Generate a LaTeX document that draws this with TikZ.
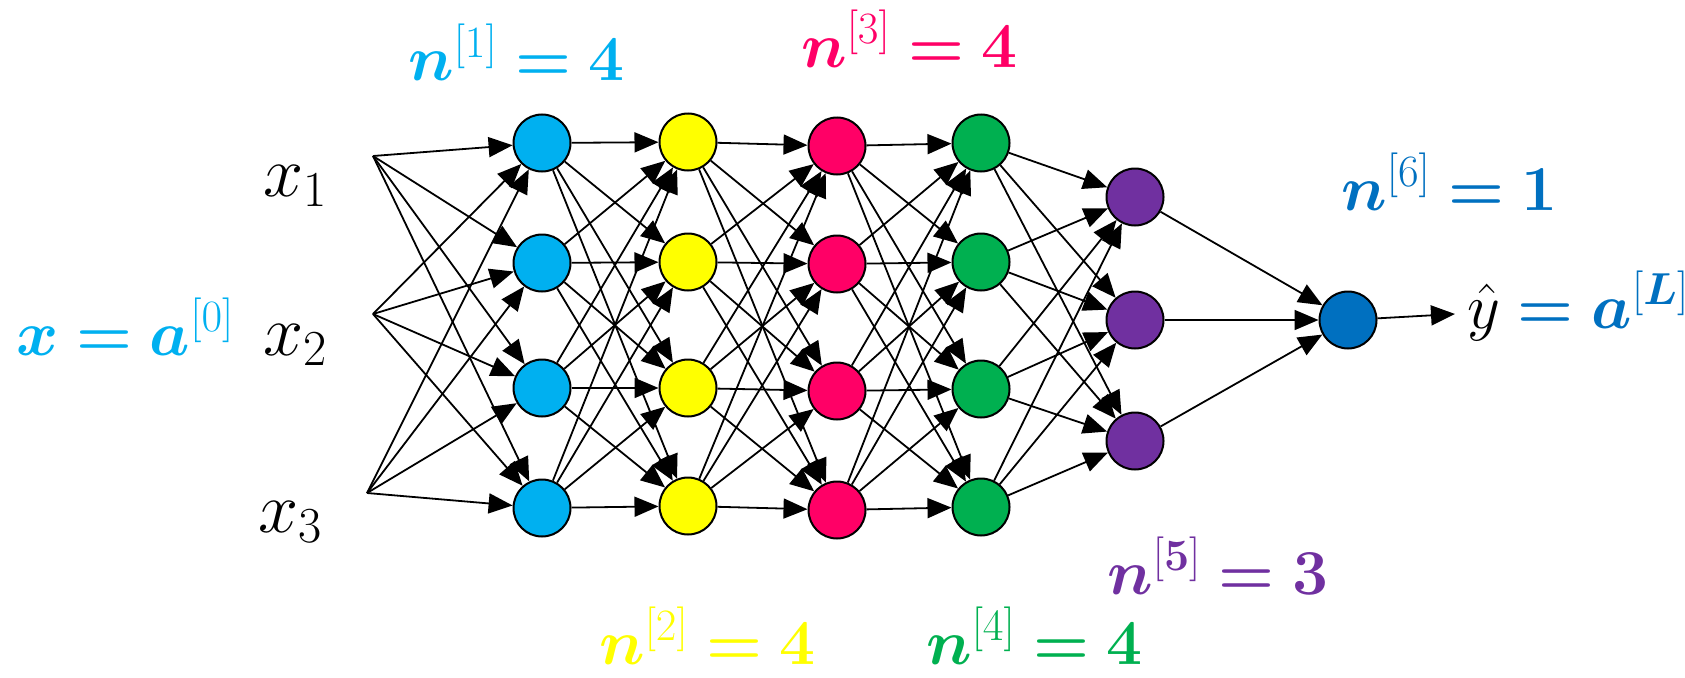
\RequirePackage{fix-cm}
\documentclass[tikz,border=0pt]{standalone}
\usepackage{amsmath,bm}
\usetikzlibrary{arrows.meta}
\definecolor{cA}{HTML}{00B0F0}
\definecolor{cB}{HTML}{FFFF00}
\definecolor{cC}{HTML}{FF0066}
\definecolor{cD}{HTML}{00B050}
\definecolor{cE}{HTML}{7030A0}
\definecolor{cF}{HTML}{0070C0}
\tikzset{
  neuron/.style={circle,draw=black,line width=2pt,minimum size=57pt,inner sep=0pt},
  edge/.style={line width=1.8pt,-{Triangle[length=24pt,width=20pt]}},
  lab/.style={anchor=base west,inner sep=0pt,font=\fontsize{64}{76}\selectfont},
  xlab/.style={anchor=base west,inner sep=0pt,font=\fontsize{72}{86}\selectfont}
}
\begin{document}
\begin{tikzpicture}[x=1pt,y=-1pt]
\useasboundingbox (0,0) rectangle (1685,677);
% input fan points
\coordinate (f1) at (373,156);
\coordinate (f2) at (373,314);
\coordinate (f3) at (367,493);
% layers
\foreach \y [count=\k] in {143,263,388,508}
  \node[neuron,fill=cA] (a\k) at (542,\y) {};
\foreach \y [count=\k] in {142,262,388,506}
  \node[neuron,fill=cB] (b\k) at (688,\y) {};
\foreach \y [count=\k] in {146,264,391,510}
  \node[neuron,fill=cC] (c\k) at (837,\y) {};
\foreach \y [count=\k] in {143,262,389,507}
  \node[neuron,fill=cD] (d\k) at (981,\y) {};
\foreach \y [count=\k] in {197,320,441}
  \node[neuron,fill=cE] (e\k) at (1135,\y) {};
\node[neuron,fill=cF] (o) at (1348,320) {};
\coordinate (yend) at (1455,314);
% edges
\foreach \i in {1,2,3} \foreach \j in {1,...,4} \draw[edge] (f\i) -- (a\j);
\foreach \i in {1,...,4} \foreach \j in {1,...,4} \draw[edge] (a\i) -- (b\j);
\foreach \i in {1,...,4} \foreach \j in {1,...,4} \draw[edge] (b\i) -- (c\j);
\foreach \i in {1,...,4} \foreach \j in {1,...,4} \draw[edge] (c\i) -- (d\j);
\foreach \i in {1,...,4} \foreach \j in {1,2,3} \draw[edge] (d\i) -- (e\j);
\foreach \i in {1,2,3} \draw[edge] (e\i) -- (o);
\draw[edge] (o) -- (yend);
% labels
\node[xlab] (x1) at (263,196) {$x_1$};
\node[xlab] (x2) at (263,355) {$x_2$};
\node[xlab] (x3) at (258,532) {$x_3$};
\node[lab,text=cA] (la0) at (16,355) {$\bm{x}\bm{=}\bm{a}^{[0]}$};
\node[lab,text=cA] (ln1) at (408,81) {$\bm{n}^{[1]}\bm{=}\mathbf{4}$};
\node[lab,text=cB] (ln2) at (599,664) {$\bm{n}^{[2]}\bm{=}\mathbf{4}$};
\node[lab,text=cC] (ln3) at (801,67) {$\bm{n}^{[3]}\bm{=}\mathbf{4}$};
\node[lab,text=cD] (ln4) at (926,664) {$\bm{n}^{[4]}\bm{=}\mathbf{4}$};
\node[lab,text=cE] (ln5) at (1107,594) {$\bm{n}^{[\mathbf{5}]}\bm{=}\mathbf{3}$};
\node[lab,text=cF] (ln6) at (1341,210) {$\bm{n}^{[6]}\bm{=}\mathbf{1}$};
\node[lab] (lyhat) at (1467,328) {$\hat{y}\mathrel{\textcolor{cF}{\bm{=}}}\textcolor{cF}{\bm{a}^{[\bm{L}]}}$};
\end{tikzpicture}
\end{document}
